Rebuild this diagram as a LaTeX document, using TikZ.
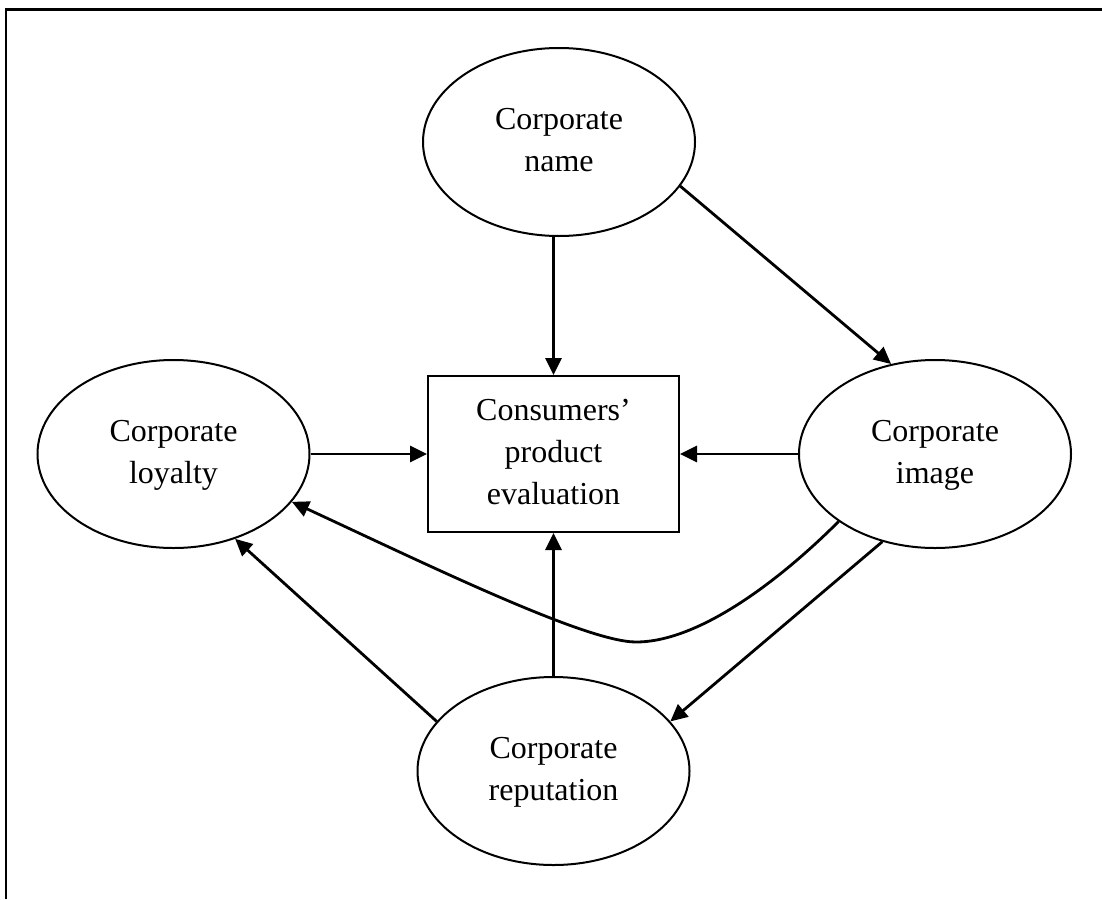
\documentclass[tikz,border=0pt]{standalone}
\usepackage{fontspec}
\setmainfont{Liberation Serif}
\usetikzlibrary{shapes.geometric,arrows.meta}

\tikzset{
  concept/.style={draw, ellipse, line width=2pt, inner sep=0pt,
    minimum width=272pt, minimum height=188pt, align=center,
    font=\fontsize{32}{41.7}\selectfont},
  outcome/.style={draw, rectangle, line width=2pt, inner sep=0pt,
    minimum width=251pt, minimum height=156pt, align=center,
    font=\fontsize{32}{41.7}\selectfont},
  link/.style={line width=2.8pt, -{Triangle[length=17pt,width=16pt]}},
  frameline/.style={line width=2.5pt}
}

\begin{document}
\begin{tikzpicture}[x=1pt, y=-1pt]
  \useasboundingbox (0,0) rectangle (1102,899);

  % open frame: left and top edges only
  \draw[frameline] (6.2,899) -- (6.2,9.3) -- (1102,9.3);

  % constructs
  \node[concept] (name)  at (559,142) {\strut Corporate\\\strut name};
  \node[concept] (loyal) at (173.5,454) {\strut Corporate\\\strut loyalty};
  \node[concept] (image) at (935,454) {\strut Corporate\\\strut image};
  \node[concept] (repu)  at (553.5,771) {\strut Corporate\\\strut reputation};
  \node[outcome] (eval)  at (553.5,454)
    {\strut Consumers’\\\strut product\\\strut evaluation};

  % relationships
  \draw[link] (eval.north |- name.south) -- (eval.north);
  \draw[link] (name.-20) -- (image.116);
  \draw[link] (loyal.east) -- (eval.west);
  \draw[link] (image.west) -- (eval.east);
  \draw[link] (repu.north) -- (eval.south);
  \draw[link] (repu.157) -- (loyal.-54);
  \draw[link] (image.-121) -- (repu.23);

  % curved path from image back to loyalty
  \coordinate (dip) at (636,642);
  \draw[link] (image.215) .. controls +(-57,57) and (700,642) .. (dip)
    .. controls (586,642) and (428,565) .. (loyal.-22);
\end{tikzpicture}
\end{document}
